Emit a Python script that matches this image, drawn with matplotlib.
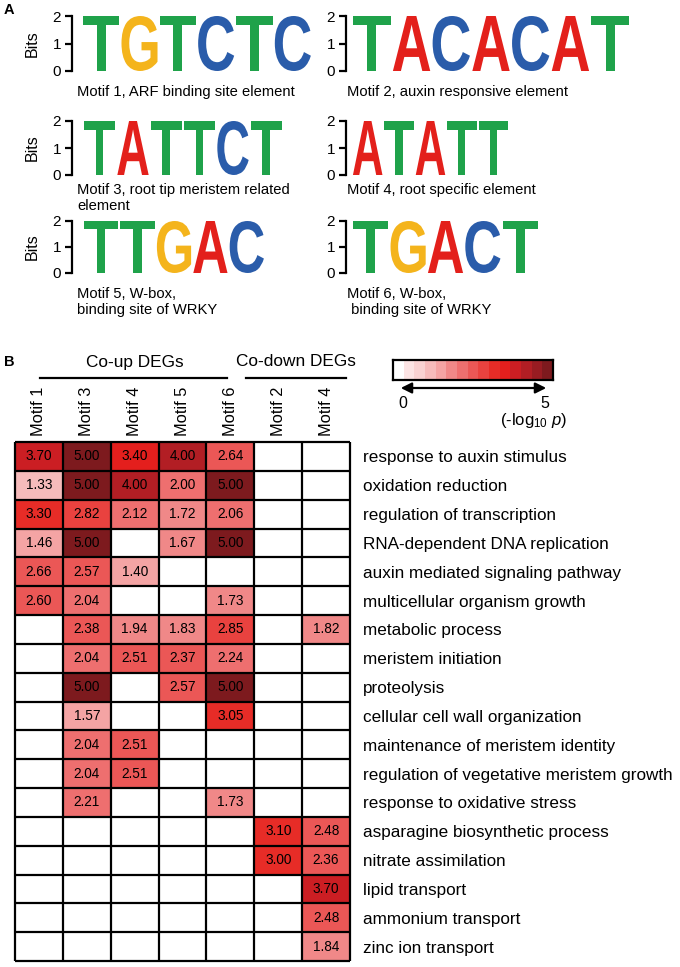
import matplotlib
matplotlib.use('Agg')
import matplotlib.pyplot as plt
import numpy as np
from matplotlib.colors import ListedColormap, BoundaryNorm
from matplotlib.font_manager import FontProperties
from matplotlib.patches import PathPatch, FancyArrowPatch
from matplotlib.textpath import TextPath
from matplotlib.transforms import Affine2D
from matplotlib.lines import Line2D

plt.rcParams['font.family'] = ['Liberation Sans', 'DejaVu Sans']
plt.rcParams['mathtext.fontset'] = 'custom'
plt.rcParams['mathtext.rm'] = 'Liberation Sans'
plt.rcParams['mathtext.it'] = 'Liberation Sans:italic'

W, H = 680, 967

# ---- panel A data ----
motif_seqs = ['TGTCTC', 'TACACAT', 'TATTCT', 'ATATT', 'TTGAC', 'TGACT']
motif_bits = [[2.0] * len(s) for s in motif_seqs]
motif_captions = ['Motif 1, ARF binding site element',
                  'Motif 2, auxin responsive element',
                  'Motif 3, root tip meristem related\nelement',
                  'Motif 4, root specific element',
                  'Motif 5, W-box,\nbinding site of WRKY',
                  'Motif 6, W-box,\n binding site of WRKY']
base_colors = {'A': '#E3201B', 'C': '#2A5CAA', 'G': '#F4B41C', 'T': '#1FA24A'}

# ---- panel B data ----
columns = ['Motif 1', 'Motif 3', 'Motif 4', 'Motif 5', 'Motif 6',
           'Motif 2', 'Motif 4']
terms = ['response to auxin stimulus',
         'oxidation reduction',
         'regulation of transcription',
         'RNA-dependent DNA replication',
         'auxin mediated signaling pathway',
         'multicellular organism growth',
         'metabolic process',
         'meristem initiation',
         'proteolysis',
         'cellular cell wall organization',
         'maintenance of meristem identity',
         'regulation of vegetative meristem growth',
         'response to oxidative stress',
         'asparagine biosynthetic process',
         'nitrate assimilation',
         'lipid transport',
         'ammonium transport',
         'zinc ion transport']
n = np.nan
scores = np.array([
    [3.70, 5.00, 3.40, 4.00, 2.64, n, n],
    [1.33, 5.00, 4.00, 2.00, 5.00, n, n],
    [3.30, 2.82, 2.12, 1.72, 2.06, n, n],
    [1.46, 5.00, n, 1.67, 5.00, n, n],
    [2.66, 2.57, 1.40, n, n, n, n],
    [2.60, 2.04, n, n, 1.73, n, n],
    [n, 2.38, 1.94, 1.83, 2.85, n, 1.82],
    [n, 2.04, 2.51, 2.37, 2.24, n, n],
    [n, 5.00, n, 2.57, 5.00, n, n],
    [n, 1.57, n, n, 3.05, n, n],
    [n, 2.04, 2.51, n, n, n, n],
    [n, 2.04, 2.51, n, n, n, n],
    [n, 2.21, n, n, 1.73, n, n],
    [n, n, n, n, n, 3.10, 2.48],
    [n, n, n, n, n, 3.00, 2.36],
    [n, n, n, n, n, n, 3.70],
    [n, n, n, n, n, n, 2.48],
    [n, n, n, n, n, n, 1.84],
])
step_colors = ['#FFFFFF', '#FCE4E4', '#F9D2D2', '#F6BBBB', '#F4A4A4',
               '#F08888', '#EE6F6F', '#EB5756', '#E9423F', '#E72C27',
               '#E41F1D', '#CB1E23', '#B21E24', '#981C22', '#7D1A1E']
bounds = np.linspace(0, 5, len(step_colors) + 1)

cmap = ListedColormap(step_colors)
cmap.set_bad('white')
norm = BoundaryNorm(bounds, cmap.N, clip=True)

LOGO_FONT = FontProperties(family='Liberation Sans', weight='bold')


def px_box(x0, y0, x1, y1):
    return [x0 / W, 1 - y1 / H, (x1 - x0) / W, (y1 - y0) / H]


def ftext(x, y, s, **kw):
    fig.text(x / W, 1 - y / H, s, **kw)


def draw_letter(ax, ch, x, y, w, h, color):
    tp = TextPath((0, 0), ch, size=1, prop=LOGO_FONT)
    bb = tp.get_extents()
    t = (Affine2D().translate(-bb.x0, -bb.y0)
         .scale(w / bb.width, h / bb.height)
         .translate(x, y) + ax.transData)
    ax.add_patch(PathPatch(tp, lw=0, fc=color, transform=t))


fig = plt.figure(figsize=(W / 100, H / 100), dpi=100)

# logo layout: spine x, letters start, letters end, top y, bottom y
logo_boxes = [(72, 82, 312, 16, 71), (346, 352, 630, 16, 71),
              (72, 83, 283, 121, 175), (346, 352, 509, 121, 175),
              (72, 83, 265, 221, 273), (346, 352, 539, 221, 273)]
caption_y = [93, 93, 191, 191, 295, 295]
caption_x = [77, 347, 77, 347, 77, 347]

for k, (seq, bits) in enumerate(zip(motif_seqs, motif_bits)):
    sx, lx0, lx1, ty, by = logo_boxes[k]
    slot = (lx1 - lx0) / len(seq)
    gap = (lx0 - sx) / slot
    ax = fig.add_axes(px_box(sx, ty, lx1 + 2, by))
    ax.set_xlim(-gap, len(seq) + 2 / slot)
    ax.set_ylim(0, 2)
    for i, (ch, b) in enumerate(zip(seq, bits)):
        draw_letter(ax, ch, i + 0.03, 0, 0.94, b, base_colors[ch])
    for s in ['top', 'right', 'bottom']:
        ax.spines[s].set_visible(False)
    ax.spines['left'].set_linewidth(1.6)
    ax.set_xticks([])
    ax.set_yticks([0, 1, 2])
    ax.tick_params(axis='y', direction='out', length=5, width=1.6,
                   labelsize=11, pad=3)
    ax.patch.set_alpha(0)
    if k % 2 == 0:
        ax.set_ylabel('Bits', fontsize=11.5, labelpad=9)
    ftext(caption_x[k], caption_y[k] - 8, motif_captions[k], fontsize=10.6,
          va='top', linespacing=1.2)
ftext(4, 10, 'A', fontsize=10.5, fontweight='bold', va='center')

# ---- panel B heatmap ----
hm_top, hm_bot = 442, 961
ax = fig.add_axes(px_box(15, hm_top, 350, hm_bot))
nr, nc = scores.shape
ax.pcolormesh(np.arange(nc + 1), np.arange(nr + 1),
              np.ma.masked_invalid(scores), cmap=cmap, norm=norm)
ax.set_xlim(0, nc)
ax.set_ylim(nr, 0)
ax.hlines(np.arange(nr + 1), 0, nc, color='black', lw=1.6, clip_on=False)
ax.vlines(np.arange(nc + 1), 0, nr, color='black', lw=1.6, clip_on=False)
for i in range(nr):
    for j in range(nc):
        v = scores[i, j]
        if not np.isnan(v):
            ax.text(j + 0.5, i + 0.5, '%.2f' % v, ha='center', va='center',
                    fontsize=9.8)
for s in ax.spines.values():
    s.set_visible(False)
ax.xaxis.set_ticks_position('top')
ax.set_xticks(np.arange(nc) + 0.5)
ax.set_xticklabels(columns, rotation=90, fontsize=11.8)
ax.yaxis.set_ticks_position('right')
ax.set_yticks(np.arange(nr) + 0.5)
ax.set_yticklabels(terms, fontsize=12.3)
ax.tick_params(length=0)
ax.tick_params(axis='x', pad=4)
ax.tick_params(axis='y', pad=9)

# group labels
xt = ax.get_xaxis_transform()
hm_h = hm_bot - hm_top
line_y = 1 + (hm_top - 378) / hm_h
lab_y = 1 + (hm_top - 362) / hm_h
ax.add_line(Line2D([0.52, 4.42], [line_y, line_y], transform=xt,
                   color='black', lw=1.6, clip_on=False))
ax.add_line(Line2D([4.82, 6.92], [line_y, line_y], transform=xt,
                   color='black', lw=1.6, clip_on=False))
ax.text(2.5, lab_y, 'Co-up DEGs', transform=xt, ha='center', va='center',
        fontsize=12.4)
ax.text(5.88, lab_y, 'Co-down DEGs', transform=xt, ha='center', va='center',
        fontsize=12.4)
ftext(4, 362, 'B', fontsize=10.5, fontweight='bold', va='center')

# colour key
cax = fig.add_axes(px_box(393, 360, 553, 380))
centers = (bounds[:-1] + bounds[1:]) / 2
cax.pcolormesh(bounds, [0, 1], centers[None, :], cmap=cmap, norm=norm)
cax.set_xticks([])
cax.set_yticks([])
for s in cax.spines.values():
    s.set_linewidth(1.6)
fig.add_artist(FancyArrowPatch((398 / W, 1 - 388 / H), (549 / W, 1 - 388 / H),
                               transform=fig.transFigure, arrowstyle='<|-|>',
                               mutation_scale=16, lw=1.6, color='black'))
ftext(403, 403, '0', fontsize=11.5, ha='center', va='center')
ftext(545, 403, '5', fontsize=11.5, ha='center', va='center')
ftext(567, 421, r'(-log$_{10}$ $\it{p}$)', fontsize=12, ha='right',
      va='center')

fig.savefig('out.png', dpi=100)
